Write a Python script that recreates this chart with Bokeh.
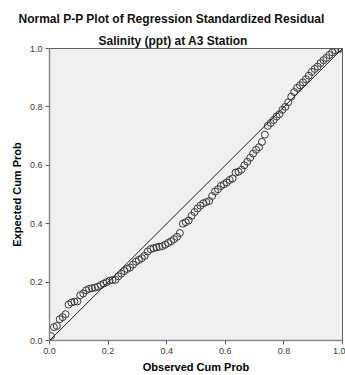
from bokeh.plotting import figure
from bokeh.models import Range1d, FixedTicker, Slope, Title, PrintfTickFormatter
from bokeh.embed import file_html
from bokeh.resources import INLINE

title_main = "Normal P-P Plot of Regression Standardized Residual"
title_sub = "Salinity (ppt) at A3 Station"
x_label = "Observed Cum Prob"
y_label = "Expected Cum Prob"

tick_values = [0.0, 0.2, 0.4, 0.6, 0.8, 1.0]
tick_labels = ["0.0", "0.2", "0.4", "0.6", "0.8", "1.0"]

observed = [
    0.005, 0.015, 0.025, 0.035, 0.045, 0.055, 0.065, 0.075, 0.085, 0.095,
    0.105, 0.115, 0.125, 0.135, 0.145, 0.155, 0.165, 0.175, 0.185, 0.195,
    0.205, 0.215, 0.225, 0.235, 0.245, 0.255, 0.265, 0.275, 0.285, 0.295,
    0.305, 0.315, 0.325, 0.335, 0.345, 0.355, 0.365, 0.375, 0.385, 0.395,
    0.405, 0.415, 0.425, 0.435, 0.445, 0.455, 0.465, 0.475, 0.485, 0.495,
    0.505, 0.515, 0.525, 0.535, 0.545, 0.555, 0.565, 0.575, 0.585, 0.595,
    0.605, 0.615, 0.625, 0.635, 0.645, 0.655, 0.665, 0.675, 0.685, 0.695,
    0.705, 0.715, 0.725, 0.735, 0.745, 0.755, 0.765, 0.775, 0.785, 0.795,
    0.805, 0.815, 0.825, 0.835, 0.845, 0.855, 0.865, 0.875, 0.885, 0.895,
    0.905, 0.915, 0.925, 0.935, 0.945, 0.955, 0.965, 0.975, 0.985, 0.995,
]
expected = [
    0.015, 0.046, 0.050, 0.073, 0.080, 0.090, 0.123, 0.130, 0.133, 0.134,
    0.155, 0.161, 0.172, 0.177, 0.179, 0.181, 0.184, 0.190, 0.195, 0.200,
    0.205, 0.207, 0.208, 0.220, 0.229, 0.238, 0.245, 0.250, 0.260, 0.270,
    0.276, 0.282, 0.290, 0.305, 0.313, 0.316, 0.319, 0.321, 0.323, 0.328,
    0.334, 0.340, 0.347, 0.355, 0.368, 0.400, 0.405, 0.411, 0.427, 0.440,
    0.452, 0.462, 0.470, 0.474, 0.478, 0.495, 0.510, 0.518, 0.529, 0.535,
    0.541, 0.550, 0.555, 0.575, 0.578, 0.585, 0.600, 0.612, 0.626, 0.640,
    0.653, 0.662, 0.680, 0.705, 0.735, 0.745, 0.755, 0.767, 0.775, 0.790,
    0.800, 0.816, 0.835, 0.851, 0.865, 0.874, 0.884, 0.895, 0.907, 0.920,
    0.930, 0.938, 0.950, 0.960, 0.968, 0.978, 0.987, 0.994, 0.998, 1.000,
]

FONT = "Liberation Sans"

p = figure(
    width=345, height=375,
    output_backend="svg", toolbar_location=None,
    x_range=Range1d(0, 1), y_range=Range1d(0, 1),
    min_border_left=49, min_border_right=3,
    min_border_top=48, min_border_bottom=35,
)
p.title.visible = False
p.background_fill_color = "#F0F0F0"
p.border_fill_color = "white"
p.outline_line_color = "#606060"
p.outline_line_width = 1
p.xgrid.visible = False
p.ygrid.visible = False

for ax in (p.xaxis[0], p.yaxis[0]):
    ax.ticker = FixedTicker(ticks=tick_values)
    ax.formatter = PrintfTickFormatter(format="%.1f")
    ax.major_label_overrides = dict(zip(tick_values, tick_labels))
    ax.major_tick_in = 0
    ax.major_tick_out = 4
    ax.minor_tick_line_color = None
    ax.axis_line_color = "#8a8a8a"
    ax.axis_line_width = 1.5
    ax.major_tick_line_color = "#606060"
    ax.major_label_text_font = FONT
    ax.major_label_text_font_size = "9px"
    ax.major_label_text_color = "#3a3a3a"
    ax.major_label_standoff = 3
    ax.axis_label_text_font = FONT
    ax.axis_label_text_font_size = "11px"
    ax.axis_label_text_font_style = "bold"
    ax.axis_label_text_color = "black"

p.xaxis.axis_label = x_label
p.yaxis.axis_label = y_label
p.xaxis.axis_label_standoff = 4
p.yaxis.axis_label_standoff = 4

p.add_layout(Slope(gradient=1, y_intercept=0, line_color="#202020", line_width=1))

p.scatter(observed, expected, marker="circle", size=7,
          fill_color=None, line_color="#3c3c3c", line_width=1)

p.add_layout(Title(text=title_sub, align="left", offset=49, standoff=2,
                   text_font=FONT, text_font_size="12px",
                   text_font_style="bold", text_color="#111111"), "above")
p.add_layout(Title(text=title_main, align="left", offset=-31, standoff=9,
                   text_font=FONT, text_font_size="12px",
                   text_font_style="bold", text_color="#111111"), "above")

open("out.html", "w").write(file_html(p, INLINE))
